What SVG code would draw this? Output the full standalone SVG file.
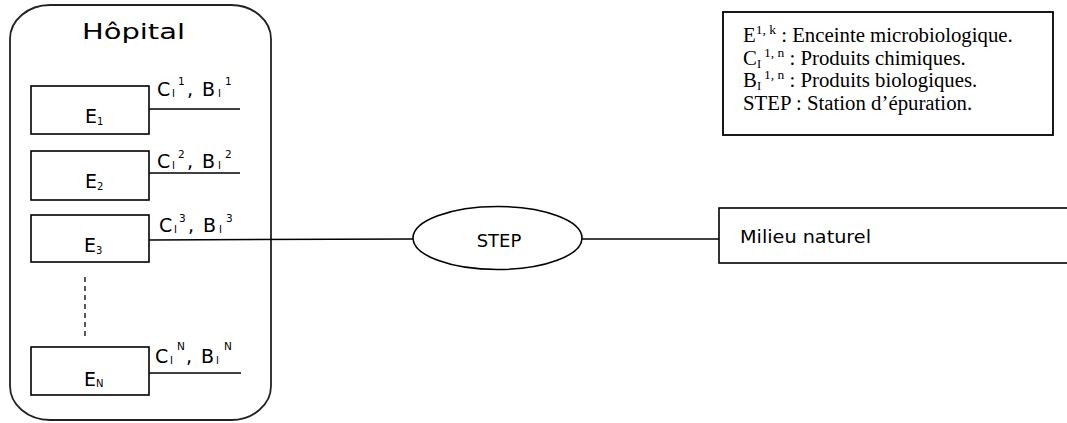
<svg xmlns="http://www.w3.org/2000/svg" width="1067" height="423" viewBox="0 0 1067 423">
<style>
.bx{fill:#fff;stroke:#000;stroke-width:1.6}
.ln{fill:none;stroke:#000;stroke-width:1.5}
.t{font-family:"DejaVu Sans","Liberation Sans",sans-serif;fill:#000}
.big{font-size:19px}
.sm{font-size:10px}
.sup{font-size:10.5px}
.lg{font-family:"Liberation Serif","Times New Roman",serif;font-size:20.8px;fill:#000}
</style>
<rect width="1067" height="423" fill="#fff"/>
<g id="hopital">
<rect x="10" y="5" width="261" height="415" rx="40" ry="34" fill="#fff" stroke="#222" stroke-width="1.8"/>
<text class="t" x="82" y="39" font-size="21" textLength="103" lengthAdjust="spacingAndGlyphs">Hôpital</text>
</g>
<g id="connectors">
<line class="ln" x1="149" y1="109" x2="240" y2="109"/>
<line class="ln" x1="149" y1="173" x2="240" y2="173"/>
<line class="ln" x1="149" y1="240" x2="413" y2="239"/>
<line class="ln" x1="149" y1="373" x2="241" y2="373"/>
<line class="ln" x1="582" y1="239" x2="719" y2="239"/>
<line x1="85" y1="277" x2="85" y2="336" stroke="#000" stroke-width="1.3" stroke-dasharray="5,4"/>
</g>
<g id="labels">
<g id="lab1">
<text class="t big" x="157" y="96">C</text><text class="t sm" x="172" y="97">I</text><text class="t sup" x="178" y="85">1</text><text class="t big" x="187" y="96">,</text>
<text class="t big" x="202" y="96">B</text><text class="t sm" x="218" y="97">I</text><text class="t sup" x="225" y="85">1</text>
</g>
<g id="lab2">
<text class="t big" x="157" y="168">C</text><text class="t sm" x="172" y="169">I</text><text class="t sup" x="178" y="158">2</text><text class="t big" x="187" y="168">,</text>
<text class="t big" x="202" y="168">B</text><text class="t sm" x="218" y="169">I</text><text class="t sup" x="225" y="158">2</text>
</g>
<g id="lab3">
<text class="t big" x="159" y="232">C</text><text class="t sm" x="174" y="233">I</text><text class="t sup" x="179" y="222">3</text><text class="t big" x="188" y="232">,</text>
<text class="t big" x="203" y="232">B</text><text class="t sm" x="219" y="233">I</text><text class="t sup" x="226" y="222">3</text>
</g>
<g id="labN">
<text class="t big" x="155" y="363">C</text><text class="t sm" x="170" y="364">I</text><text class="t sup" x="177" y="350">N</text><text class="t big" x="186" y="363">,</text>
<text class="t big" x="201" y="363">B</text><text class="t sm" x="216" y="364">I</text><text class="t sup" x="224" y="350">N</text>
</g>
</g>
<g id="E1">
<rect class="bx" x="31" y="86" width="118" height="48"/>
<text class="t" x="85" y="123" font-size="19">E<tspan font-size="10" dy="2">1</tspan></text>
</g>
<g id="E2">
<rect class="bx" x="31" y="151" width="118" height="49"/>
<text class="t" x="85" y="188" font-size="19">E<tspan font-size="10" dy="2">2</tspan></text>
</g>
<g id="E3">
<rect class="bx" x="31" y="215" width="118" height="47"/>
<text class="t" x="84" y="252" font-size="19">E<tspan font-size="10" dy="2">3</tspan></text>
</g>
<g id="EN">
<rect class="bx" x="31" y="347" width="118" height="48"/>
<text class="t" x="84" y="386" font-size="19">E<tspan font-size="10" dy="1">N</tspan></text>
</g>
<g id="step">
<ellipse class="bx" cx="497.5" cy="238" rx="84.5" ry="31.5"/>
<text class="t" x="499" y="247" font-size="18" text-anchor="middle">STEP</text>
</g>
<g id="milieu">
<rect class="bx" x="719" y="208" width="360" height="55"/>
<text class="t" x="740" y="243" font-size="18" textLength="131" lengthAdjust="spacingAndGlyphs">Milieu naturel</text>
</g>
<g id="legende">
<rect x="723" y="12" width="330" height="123" fill="#fff" stroke="#000" stroke-width="1.8"/>
<text class="lg" x="743" y="42">E<tspan font-size="13.5" dy="-8">1, k</tspan><tspan dy="8"> : Enceinte microbiologique.</tspan></text>
<text class="lg" x="743" y="64.5">C<tspan font-size="12.5" dy="3">I</tspan><tspan font-size="13.5" dy="-11" dx="3">1, n</tspan><tspan dy="8"> : Produits chimiques.</tspan></text>
<text class="lg" x="743" y="87">B<tspan font-size="12.5" dy="3">I</tspan><tspan font-size="13.5" dy="-11" dx="3">1, n</tspan><tspan dy="8"> : Produits biologiques.</tspan></text>
<text class="lg" x="743" y="110">STEP : Station d’épuration.</text>
</g>
</svg>
